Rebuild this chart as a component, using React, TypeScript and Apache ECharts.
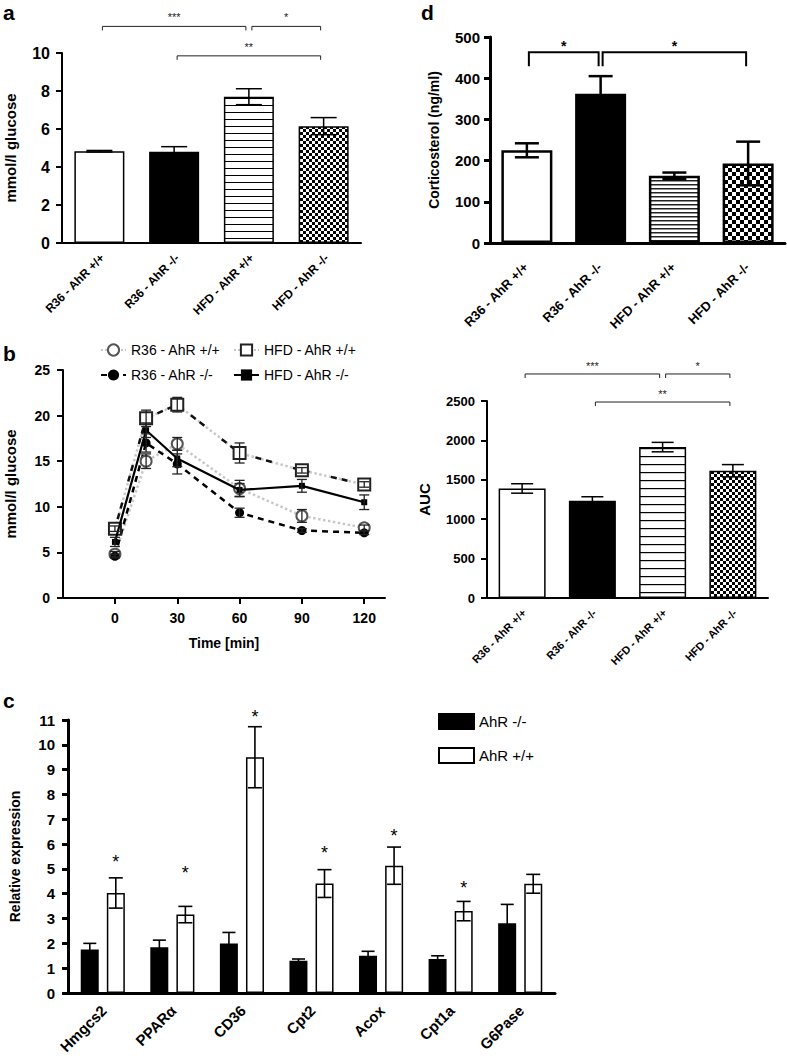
import React, { useEffect, useRef } from 'react';
import * as echarts from 'echarts';

// ---------- data ----------
const groups = ['R36 - AhR +/+', 'R36 - AhR -/-', 'HFD - AhR +/+', 'HFD - AhR -/-'];

const fastingGlucose = [4.83, 4.8, 7.7, 6.15];
const fastingGlucoseErr = [0.04, 0.27, 0.42, 0.45];
const fastingBrackets: [number, number, number, string][] = [
  [0, 2, 11.4, '***'],
  [2, 3, 11.4, '*'],
  [1, 3, 9.85, '**'],
];

const cortico = [225, 362, 163, 193];
const corticoErr = [17, 43, 8, 53];
const corticoBrackets: [number, number, number, string][] = [
  [0, 1, 463, '*'],
  [1, 3, 463, '*'],
];

const aucValues = [1390, 1235, 1915, 1615];
const aucErr = [60, 50, 60, 78];
const aucBrackets: [number, number, number, string][] = [
  [0, 2, 2843, '***'],
  [2, 3, 2843, '*'],
  [1, 3, 2487, '**'],
];

const timePoints = [0, 15, 30, 60, 90, 120];
const timeTicks = [0, 30, 60, 90, 120];
const r36WT = [4.8, 15.0, 16.9, 12.0, 9.0, 7.7];
const r36WTErr = [0.3, 0.8, 0.7, 0.9, 0.7, 0.3];
const hfdWT = [7.6, 19.7, 21.2, 15.9, 14.0, 12.45];
const hfdWTErr = [0.3, 0.9, 0.8, 1.1, 0.3, 0.3];
const r36KO = [4.6, 17.0, 14.7, 9.35, 7.4, 7.15];
const r36KOErr = [0.2, 1.0, 1.1, 0.5, 0.2, 0.2];
const hfdKO = [6.15, 18.4, 15.3, 11.85, 12.3, 10.5];
const hfdKOErr = [0.5, 0.8, 0.9, 0.7, 0.7, 0.8];

const genes = ['Hmgcs2', 'PPARα', 'CD36', 'Cpt2', 'Acox', 'Cpt1a', 'G6Pase'];
const koExpr = [1.75, 1.84, 1.99, 1.3, 1.5, 1.37, 2.81];
const koErr = [0.25, 0.29, 0.45, 0.07, 0.18, 0.13, 0.76];
const wtExpr = [4.03, 3.16, 9.5, 4.41, 5.13, 3.3, 4.4];
const wtErr = [0.61, 0.33, 1.23, 0.56, 0.75, 0.39, 0.38];
const wtStarLevels: (number | null)[] = [5.45, 5.0, 11.3, 5.8, 6.5, 4.4, null];

// ---------- helpers ----------
const FONT = '"Liberation Sans", Arial, sans-serif';

function stripePattern(spacing: number, lineW: number, color: string) {
  const c = document.createElement('canvas');
  c.width = 8;
  c.height = spacing;
  const ctx = c.getContext('2d')!;
  ctx.fillStyle = '#fff';
  ctx.fillRect(0, 0, 8, spacing);
  ctx.fillStyle = color;
  ctx.fillRect(0, 0, 8, lineW);
  return { image: c, repeat: 'repeat', imageWidth: 8, imageHeight: spacing } as any;
}

function checkerPattern(cell: number) {
  const c = document.createElement('canvas');
  c.width = cell * 2;
  c.height = cell * 2;
  const ctx = c.getContext('2d')!;
  ctx.fillStyle = '#fff';
  ctx.fillRect(0, 0, cell * 2, cell * 2);
  ctx.fillStyle = '#000';
  ctx.fillRect(0, 0, cell, cell);
  ctx.fillRect(cell, cell, cell, cell);
  return { image: c, repeat: 'repeat', imageWidth: cell * 2, imageHeight: cell * 2 } as any;
}

function errorBarRender(capHalf: number, offset: number, lineWidth: number, color: string) {
  return (params: any, api: any) => {
    const x = api.value(0);
    const lo = api.value(1);
    const hi = api.value(2);
    const pLo = api.coord([x, lo]);
    const pHi = api.coord([x, hi]);
    const cx = pLo[0] + offset;
    const style = { stroke: color, lineWidth };
    return {
      type: 'group',
      children: [
        { type: 'line', shape: { x1: cx, y1: pLo[1], x2: cx, y2: pHi[1] }, style },
        { type: 'line', shape: { x1: cx - capHalf, y1: pHi[1], x2: cx + capHalf, y2: pHi[1] }, style },
        { type: 'line', shape: { x1: cx - capHalf, y1: pLo[1], x2: cx + capHalf, y2: pLo[1] }, style },
      ],
    };
  };
}

function bracketRender(
  list: [number, number, number, string][],
  drop: number,
  inset: number,
  lineWidth: number,
  fontSize: number,
  fontWeight: string,
  labelGap: number,
  color: string
) {
  return (params: any, api: any) => {
    const b = list[params.dataIndex];
    const p0 = api.coord([b[0], b[2]]);
    const p1 = api.coord([b[1], b[2]]);
    const x0 = p0[0] + inset;
    const x1 = p1[0] - inset;
    const y = p0[1];
    return {
      type: 'group',
      children: [
        {
          type: 'polyline',
          shape: { points: [[x0, y + drop], [x0, y], [x1, y], [x1, y + drop]] },
          style: { stroke: color, lineWidth, fill: 'none' },
        },
        {
          type: 'text',
          style: {
            x: (x0 + x1) / 2,
            y: y - labelGap,
            text: b[3],
            fill: color,
            font: `${fontWeight} ${fontSize}px ${FONT}`,
            align: 'center',
            verticalAlign: 'middle',
          },
        },
      ],
    };
  };
}

function catXAxis(gridIndex: number, data: string[], lineWidth: number) {
  return {
    type: 'category',
    gridIndex,
    data,
    axisLine: { onZero: false, lineStyle: { color: '#000', width: lineWidth } },
    axisTick: { alignWithLabel: true, length: 6, lineStyle: { color: '#000', width: lineWidth } },
    axisLabel: { show: false },
    splitLine: { show: false },
  };
}

// rotated category labels drawn through the category axis scale
function catLabelSeries(axisIndex: number, cats: string[], fontSize: number, dx: number, dy: number) {
  return {
    type: 'custom',
    xAxisIndex: axisIndex,
    yAxisIndex: axisIndex,
    clip: false,
    silent: true,
    z: 10,
    encode: { x: 0, y: 1 },
    renderItem: (params: any, api: any) => {
      const i = api.value(0);
      const p = api.coord([i, 0]);
      return {
        type: 'text',
        x: p[0] + dx,
        y: p[1] + dy,
        rotation: Math.PI / 4,
        style: {
          text: cats[params.dataIndex],
          fill: '#000',
          font: `bold ${fontSize}px ${FONT}`,
          align: 'right',
          verticalAlign: 'middle',
        },
      };
    },
    data: cats.map((_, i) => [i, 0]),
  };
}

function valYAxis(
  gridIndex: number,
  max: number,
  interval: number,
  name: string,
  nameGap: number,
  labelSize: number,
  nameSize: number,
  lineWidth: number,
  margin: number
) {
  return {
    type: 'value',
    gridIndex,
    min: 0,
    max,
    interval,
    name,
    nameLocation: 'middle',
    nameGap,
    nameTextStyle: { color: '#000', fontWeight: 'bold', fontSize: nameSize, fontFamily: FONT },
    axisLine: { show: true, onZero: false, lineStyle: { color: '#000', width: lineWidth } },
    axisTick: { show: true, length: 6, lineStyle: { color: '#000', width: lineWidth } },
    axisLabel: {
      color: '#000',
      fontWeight: 'bold',
      fontSize: labelSize,
      fontFamily: FONT,
      margin,
      formatter: (v: number) => String(v),
    },
    splitLine: { show: false },
  };
}

export default function App() {
  const ref = useRef<HTMLDivElement>(null);

  useEffect(() => {
    if (!ref.current) return;
    const chart = echarts.init(ref.current, null, { renderer: 'svg' });

    const fillsA = ['#fff', '#000', stripePattern(7, 1, '#000'), checkerPattern(3)];
    const fillsD = ['#fff', '#000', stripePattern(4, 1.5, '#222'), checkerPattern(4)];
    const fillsAUC = ['#fff', '#000', stripePattern(8, 1.2, '#000'), checkerPattern(3)];

    const barData = (vals: number[], fills: any[], bw: number) =>
      vals.map((v, i) => ({
        value: v,
        itemStyle: { color: fills[i], borderColor: '#000', borderWidth: bw },
      }));

    const errData = (vals: number[], errs: number[]) =>
      vals.map((v, i) => [i, v - errs[i], v + errs[i]]);

    const lineErr = (vals: number[], errs: number[]) =>
      timePoints.map((t, i) => [t, vals[i] - errs[i], vals[i] + errs[i]]);

    const pts = (vals: number[]) => timePoints.map((t, i) => [t, vals[i]]);

    const option: any = {
      animation: false,
      backgroundColor: '#fff',
      textStyle: { fontFamily: FONT, color: '#000' },
      grid: [
        { left: 62, top: 53, width: 299, height: 190 },
        { left: 490, top: 37, width: 295, height: 206 },
        { left: 63, top: 370, width: 322, height: 228 },
        { left: 487, top: 401, width: 281, height: 197 },
        { left: 65, top: 720, width: 490, height: 273 },
      ],
      xAxis: [
        catXAxis(0, groups, 2),
        catXAxis(1, groups, 3),
        {
          type: 'value',
          gridIndex: 2,
          min: -25,
          max: 130,
          name: 'Time [min]',
          nameLocation: 'middle',
          nameGap: 38,
          nameTextStyle: { color: '#000', fontWeight: 'bold', fontSize: 14, fontFamily: FONT },
          axisLine: { onZero: false, lineStyle: { color: '#000', width: 2 } },
          axisTick: { show: true, length: 6, customValues: timeTicks, lineStyle: { color: '#000', width: 2 } },
          axisLabel: {
            customValues: timeTicks,
            color: '#000',
            fontWeight: 'bold',
            fontSize: 14,
            fontFamily: FONT,
            margin: 13,
          },
          splitLine: { show: false },
        },
        catXAxis(3, groups, 2),
        catXAxis(4, genes, 3),
      ],
      yAxis: [
        valYAxis(0, 10, 2, 'mmol/l glucose', 44, 16, 15, 2, 12),
        valYAxis(1, 500, 100, 'Corticosterol (ng/ml)', 49, 15, 14, 3, 10),
        valYAxis(2, 25, 5, 'mmol/l glucose', 45, 14, 15, 2, 13),
        valYAxis(3, 2500, 500, 'AUC', 55, 13, 15, 2, 12),
        valYAxis(4, 11, 1, 'Relative expression', 46, 15, 14, 3, 13),
      ],
      legend: [
        {
          data: ['R36 - AhR +/+', 'R36 - AhR -/-'],
          orient: 'vertical',
          left: 95,
          top: 338,
          itemWidth: 25,
          itemHeight: 14,
          itemGap: 11,
          textStyle: { color: '#000', fontSize: 14, fontFamily: FONT },
        },
        {
          data: ['HFD - AhR +/+', 'HFD - AhR -/-'],
          orient: 'vertical',
          left: 228,
          top: 338,
          itemWidth: 25,
          itemHeight: 14,
          itemGap: 11,
          textStyle: { color: '#000', fontSize: 14, fontFamily: FONT },
        },
        {
          data: ['AhR -/-', 'AhR +/+'],
          orient: 'vertical',
          left: 433,
          top: 708,
          icon: 'rect',
          itemWidth: 35,
          itemHeight: 15,
          itemGap: 17,
          textStyle: { color: '#000', fontSize: 15, fontFamily: FONT },
        },
      ],
      graphic: [
        { type: 'text', left: 3, top: 2, style: { text: 'a', font: `bold 21px ${FONT}`, fill: '#000' } },
        { type: 'text', left: 421, top: 2, style: { text: 'd', font: `bold 21px ${FONT}`, fill: '#000' } },
        { type: 'text', left: 3, top: 343, style: { text: 'b', font: `bold 21px ${FONT}`, fill: '#000' } },
        { type: 'text', left: 3, top: 690, style: { text: 'c', font: `bold 21px ${FONT}`, fill: '#000' } },
      ],
      series: [
        // ----- panel a -----
        {
          type: 'bar',
          xAxisIndex: 0,
          yAxisIndex: 0,
          barWidth: 50,
          data: barData(fastingGlucose, fillsA, 1.5),
        },
        {
          type: 'custom',
          xAxisIndex: 0,
          yAxisIndex: 0,
          z: 5,
          renderItem: errorBarRender(13, 0, 1.5, '#000'),
          encode: { x: 0, y: [1, 2] },
          data: errData(fastingGlucose, fastingGlucoseErr),
        },
        {
          type: 'custom',
          xAxisIndex: 0,
          yAxisIndex: 0,
          clip: false,
          renderItem: bracketRender(fastingBrackets, 4, 3, 1, 11, 'normal', 9, '#222'),
          data: fastingBrackets.map((b) => [b[0], b[1], b[2]]),
        },
        catLabelSeries(0, groups, 12, 3, 13),
        // ----- panel d -----
        {
          type: 'bar',
          xAxisIndex: 1,
          yAxisIndex: 1,
          barWidth: 51,
          data: barData(cortico, fillsD, 2.5),
        },
        {
          type: 'custom',
          xAxisIndex: 1,
          yAxisIndex: 1,
          z: 5,
          renderItem: errorBarRender(12, 0, 2.5, '#000'),
          encode: { x: 0, y: [1, 2] },
          data: errData(cortico, corticoErr),
        },
        {
          type: 'custom',
          xAxisIndex: 1,
          yAxisIndex: 1,
          clip: false,
          renderItem: bracketRender(corticoBrackets, 14, 2, 2, 14, 'bold', 6, '#000'),
          data: corticoBrackets.map((b) => [b[0], b[1], b[2]]),
        },
        catLabelSeries(1, groups, 13, -1, 22),
        // ----- panel b -----
        {
          type: 'line',
          name: 'R36 - AhR +/+',
          xAxisIndex: 2,
          yAxisIndex: 2,
          data: pts(r36WT),
          symbol: 'emptyCircle',
          symbolSize: 11,
          lineStyle: { color: '#c8c8c8', width: 2.5, type: 'dotted' },
          itemStyle: { color: '#555', borderWidth: 1.2 },
          z: 3,
        },
        {
          type: 'line',
          name: 'HFD - AhR +/+',
          xAxisIndex: 2,
          yAxisIndex: 2,
          data: pts(hfdWT),
          symbol: 'emptyRect',
          symbolSize: 12,
          lineStyle: { color: '#c8c8c8', width: 2.5, type: 'dotted' },
          itemStyle: { color: '#222', borderWidth: 1.3 },
          z: 3,
        },
        {
          type: 'line',
          name: 'HFD - AhR +/+ dashes',
          xAxisIndex: 2,
          yAxisIndex: 2,
          data: pts(hfdWT),
          symbol: 'none',
          lineStyle: { color: '#111', width: 2.5, type: [6, 5, 6, 22], dashOffset: -10 },
          z: 3,
        },
        {
          type: 'line',
          name: 'R36 - AhR -/-',
          xAxisIndex: 2,
          yAxisIndex: 2,
          data: pts(r36KO),
          symbol: 'circle',
          symbolSize: 9,
          lineStyle: { color: '#000', width: 2.5, type: [6, 5] },
          itemStyle: { color: '#000' },
          z: 3,
        },
        {
          type: 'line',
          name: 'HFD - AhR -/-',
          xAxisIndex: 2,
          yAxisIndex: 2,
          data: pts(hfdKO),
          symbol: 'rect',
          symbolSize: 6,
          lineStyle: { color: '#000', width: 2.2, type: 'solid' },
          itemStyle: { color: '#000' },
          z: 4,
        },
        ...[
          [r36WT, r36WTErr],
          [hfdWT, hfdWTErr],
          [r36KO, r36KOErr],
          [hfdKO, hfdKOErr],
        ].map(([v, e]) => ({
          type: 'custom',
          xAxisIndex: 2,
          yAxisIndex: 2,
          z: 5,
          renderItem: errorBarRender(5, 0, 1.3, '#222'),
          encode: { x: 0, y: [1, 2] },
          data: lineErr(v, e),
        })),
        // ----- AUC panel -----
        {
          type: 'bar',
          xAxisIndex: 3,
          yAxisIndex: 3,
          barWidth: 47,
          data: barData(aucValues, fillsAUC, 1.5),
        },
        {
          type: 'custom',
          xAxisIndex: 3,
          yAxisIndex: 3,
          z: 5,
          renderItem: errorBarRender(11, 0, 1.5, '#000'),
          encode: { x: 0, y: [1, 2] },
          data: errData(aucValues, aucErr),
        },
        {
          type: 'custom',
          xAxisIndex: 3,
          yAxisIndex: 3,
          clip: false,
          renderItem: bracketRender(aucBrackets, 4, 3, 1, 11, 'normal', 8, '#222'),
          data: aucBrackets.map((b) => [b[0], b[1], b[2]]),
        },
        catLabelSeries(3, groups, 11, 2, 13),
        // ----- panel c -----
        {
          type: 'bar',
          name: 'AhR -/-',
          xAxisIndex: 4,
          yAxisIndex: 4,
          barWidth: 18,
          barGap: '45%',
          itemStyle: { color: '#000', borderColor: '#000', borderWidth: 1.5 },
          data: koExpr,
        },
        {
          type: 'bar',
          name: 'AhR +/+',
          xAxisIndex: 4,
          yAxisIndex: 4,
          barWidth: 18,
          barGap: '45%',
          itemStyle: { color: '#fff', borderColor: '#000', borderWidth: 1.5 },
          data: wtExpr,
        },
        {
          type: 'custom',
          xAxisIndex: 4,
          yAxisIndex: 4,
          z: 5,
          renderItem: errorBarRender(6.5, -13, 1.6, '#000'),
          encode: { x: 0, y: [1, 2] },
          data: errData(koExpr, koErr),
        },
        {
          type: 'custom',
          xAxisIndex: 4,
          yAxisIndex: 4,
          z: 5,
          renderItem: errorBarRender(7, 13, 1.6, '#000'),
          encode: { x: 0, y: [1, 2] },
          data: errData(wtExpr, wtErr),
        },
        {
          type: 'custom',
          xAxisIndex: 4,
          yAxisIndex: 4,
          z: 6,
          clip: false,
          renderItem: (params: any, api: any) => {
            const p = api.coord([api.value(0), api.value(1)]);
            return {
              type: 'text',
              style: {
                x: p[0] + 13,
                y: p[1] + 4,
                text: '*',
                fill: '#000',
                font: `18px ${FONT}`,
                align: 'center',
                verticalAlign: 'middle',
              },
            };
          },
          data: wtStarLevels
            .map((s, i) => (s == null ? null : [i, s]))
            .filter((d) => d != null),
        },
        catLabelSeries(4, genes, 15, 1, 15),
      ],
    };

    chart.setOption(option);
    return () => chart.dispose();
  }, []);

  return (
    <div
      ref={ref}
      style={{ position: 'absolute', left: 0, top: 0, width: 787, height: 1058, background: '#fff' }}
    />
  );
}
